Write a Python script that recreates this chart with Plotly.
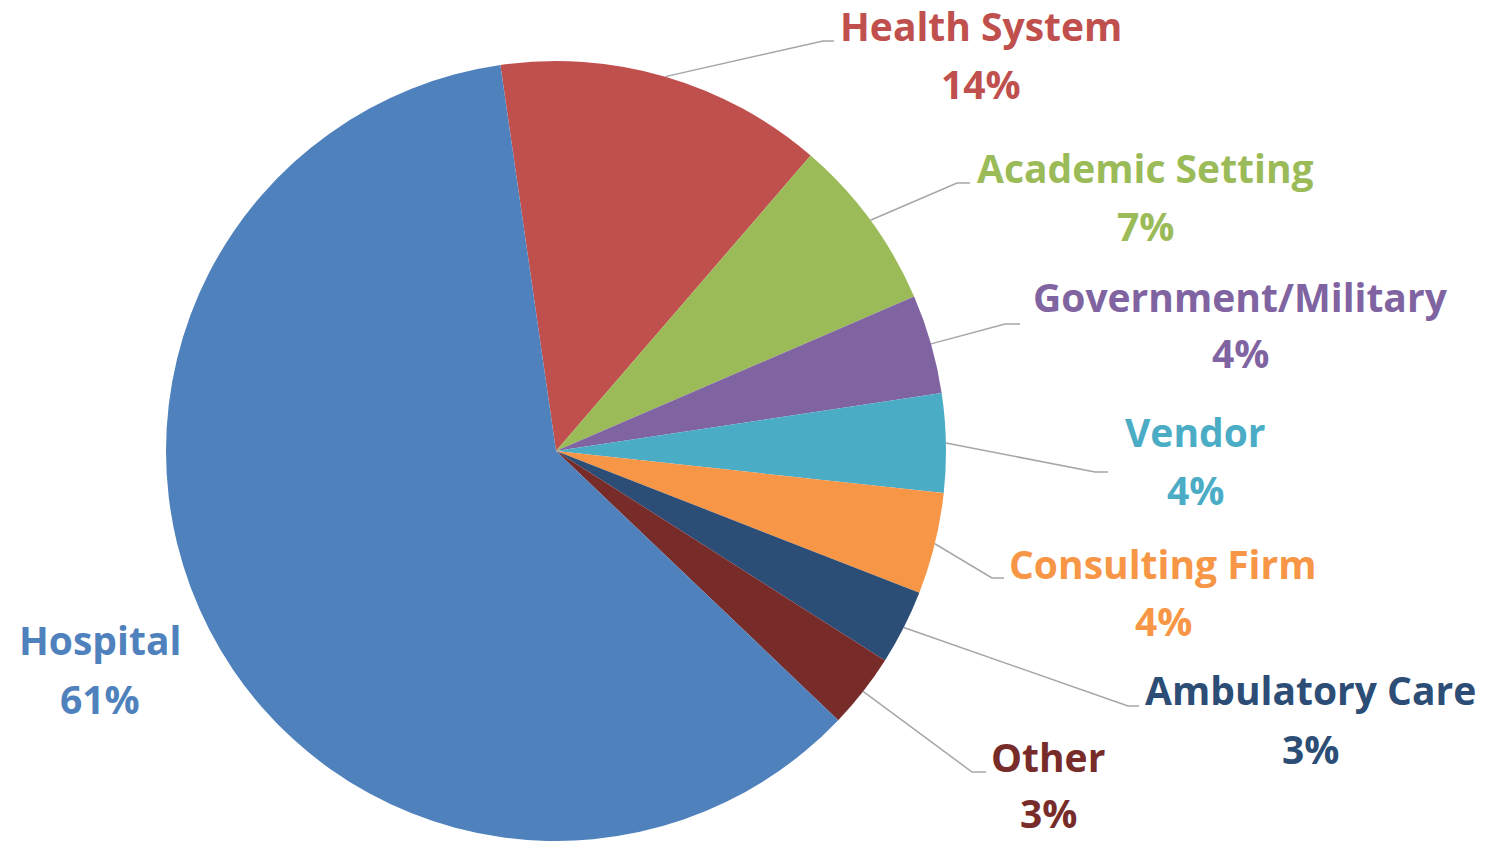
import math
import plotly.graph_objects as go

# ---- data ----
categories = ["Health System", "Academic Setting", "Government/Military", "Vendor",
              "Consulting Firm", "Ambulatory Care", "Other", "Hospital"]
shares = [13.6, 7.2, 4.1, 4.1, 4.2, 3.1, 3.1, 60.6]
slice_colors = ["#C0504D", "#9BBB59", "#8064A2", "#4BACC6",
                "#F79646", "#2C4D75", "#772C2A", "#4F81BD"]

# ---- layout constants (pixels) ----
W, H = 1486, 841
CX, CY, R = 556, 451, 390
START_DEG = -8.2
FONT = "Open Sans"
FSIZE = 39

# label placement: (center x, name line y, percent line y)
label_pos = [(981, 25, 83), (1145, 167, 225), (1240, 296, 353), (1195, 431, 489),
             (1163, 563, 620), (1310, 689, 748), (1048, 756, 812), (100, 639, 698)]
# leader line elbows: (elbow x, elbow y, end x)
leader_pts = [(823, 41, 834), (957, 183, 970), (1005, 324, 1020), (1095, 472, 1108),
              (992, 578, 1004), (1128, 706, 1139), (972, 772, 986), None]


def px(x):
    return x / W


def py(y):
    return 1 - y / H


fig = go.Figure(go.Pie(
    labels=categories,
    values=shares,
    sort=False,
    direction="clockwise",
    rotation=START_DEG,
    marker=dict(colors=slice_colors, line=dict(width=0)),
    textinfo="none",
    hoverinfo="label+percent",
    showlegend=False,
    domain=dict(x=[px(CX - R), px(CX + R)], y=[py(CY + R), py(CY - R)]),
))

total = sum(shares)
annotations = []
shapes = []
cum = 0.0
for i, (cat, v) in enumerate(zip(categories, shares)):
    mid = math.radians(START_DEG + (cum + v / 2) / total * 360)
    cum += v
    lx, ny, pyy = label_pos[i]
    col = slice_colors[i]
    pct = f"{round(v / total * 100)}%"
    for txt, yy in ((cat, ny), (pct, pyy)):
        annotations.append(dict(
            x=px(lx), y=py(yy), xref="paper", yref="paper",
            text=txt, showarrow=False, xanchor="center", yanchor="middle",
            font=dict(family=FONT, size=FSIZE, color=col, weight="bold"),
        ))
    if leader_pts[i] is not None:
        sx = CX + R * math.sin(mid)
        sy = CY - R * math.cos(mid)
        ex, ey, endx = leader_pts[i]
        path = f"M {px(sx)} {py(sy)} L {px(ex)} {py(ey)} L {px(endx)} {py(ey)}"
        shapes.append(dict(type="path", xref="paper", yref="paper", path=path,
                           line=dict(color="#A6A6A6", width=1.5)))

fig.update_layout(
    width=W, height=H,
    margin=dict(l=0, r=0, t=0, b=0),
    paper_bgcolor="white", plot_bgcolor="white",
    annotations=annotations,
    shapes=shapes,
)

fig.write_html("out.html", config={"displayModeBar": False},
               post_script="document.body.style.margin='0';")
